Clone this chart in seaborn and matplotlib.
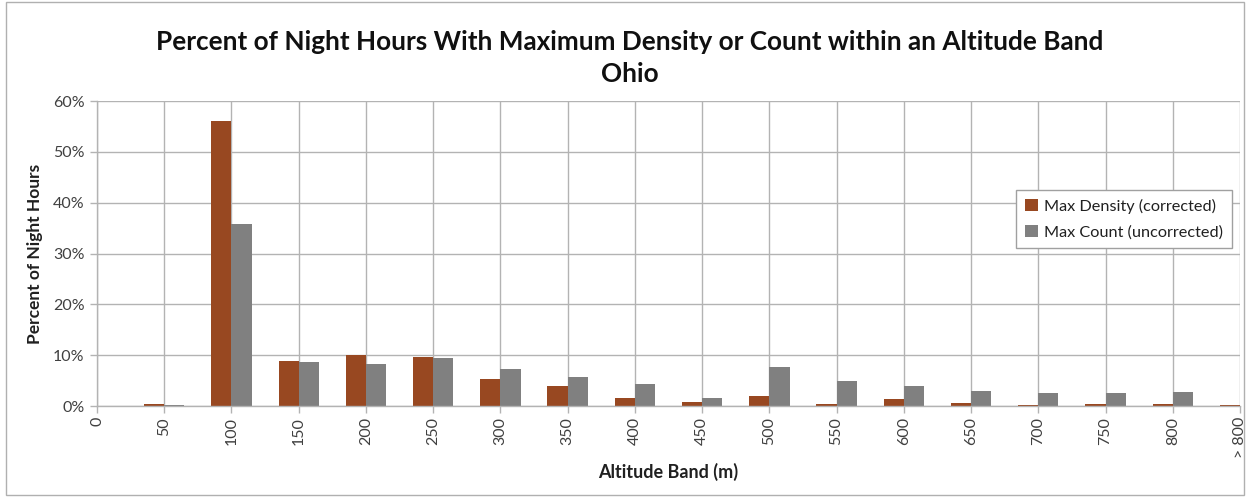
import matplotlib
matplotlib.use("Agg")
import matplotlib.pyplot as plt
import seaborn as sns
import pandas as pd
import numpy as np
from matplotlib.patches import Rectangle
from matplotlib.ticker import PercentFormatter

# Altitude bands (m) and share of night hours (%) for each series
bands = ["0", "50", "100", "150", "200", "250", "300", "350", "400", "450",
         "500", "550", "600", "650", "700", "750", "800", "> 800"]
max_density = [0.0, 0.4, 56.0, 8.8, 10.0, 9.6, 5.3, 3.9, 1.6, 0.85,
               1.9, 0.4, 1.3, 0.66, 0.2, 0.4, 0.4, 0.2]
max_count = [0.0, 0.13, 35.9, 8.7, 8.2, 9.4, 7.3, 5.7, 4.3, 1.6,
             7.6, 4.9, 3.9, 3.0, 2.6, 2.5, 2.8, 0.0]
series_names = ["Max Density (corrected)", "Max Count (uncorrected)"]
series_colors = ["#984821", "#808080"]

df = pd.DataFrame({
    "band": bands * 2,
    "value": max_density + max_count,
    "series": [series_names[0]] * len(bands) + [series_names[1]] * len(bands),
})

sns.set_theme(style="white")
plt.rcParams["font.family"] = ["Lato", "DejaVu Sans"]

fig = plt.figure(figsize=(12.54, 4.98), dpi=100)
ax = fig.add_axes([97 / 1254, 1 - 406 / 498, (1240 - 97) / 1254, (406 - 101) / 498])

sns.barplot(data=df, x="band", y="value", hue="series", order=bands,
            hue_order=series_names, palette=series_colors, width=0.6,
            linewidth=0, saturation=1, ax=ax)

ax.set_xlim(0, len(bands) - 1)
ax.set_ylim(0, 60)
ax.set_yticks(np.arange(0, 61, 10))
ax.yaxis.set_major_formatter(PercentFormatter(decimals=0))

grid_c = "#b3b3b3"
ax.grid(True, axis="both", color=grid_c, linewidth=1)
ax.set_axisbelow(True)
for side in ["top", "right"]:
    ax.spines[side].set_visible(False)
for side in ["left", "bottom"]:
    ax.spines[side].set_color(grid_c)
    ax.spines[side].set_linewidth(1)

ax.tick_params(axis="y", length=5, width=1, color=grid_c, pad=4,
               labelsize=11.5, labelcolor="#404040", left=True)
ax.tick_params(axis="x", length=5, width=1, color=grid_c, pad=3,
               labelsize=11.5, labelcolor="#404040", bottom=True)
plt.setp(ax.get_xticklabels(), rotation=90, va="top", ha="center")

ax.set_xlabel("Altitude Band (m)", fontsize=13, fontweight="bold",
              color="#202020", labelpad=3)
ax.set_ylabel("Percent of Night Hours", fontsize=12.5, fontweight="bold",
              color="#202020", labelpad=7)

fig.suptitle("Percent of Night Hours With Maximum Density or Count within an Altitude Band\nOhio",
             x=630 / 1254, y=1 - 30 / 498, fontsize=18.8, fontweight="bold",
             color="#101010", linespacing=1.4, va="top")

leg = ax.legend(loc="upper right", bbox_to_anchor=(0.993, 0.708), fontsize=11.7,
                frameon=True, fancybox=False, edgecolor="#a0a0a0",
                handlelength=0.75, handleheight=0.75, handletextpad=0.4,
                borderpad=0.55, labelspacing=0.65, borderaxespad=0, title=None)
leg.get_frame().set_linewidth(1)
leg.get_frame().set_facecolor("white")
leg.get_frame().set_alpha(1)
for t in leg.get_texts():
    t.set_color("#202020")

# light frame around the whole chart area
fig.patches.append(Rectangle((6 / 1254, 3 / 498), 1238 / 1254, 493 / 498,
                             transform=fig.transFigure, fill=False,
                             edgecolor="#b0b0b0", linewidth=1))

fig.savefig("out.png", dpi=100)
